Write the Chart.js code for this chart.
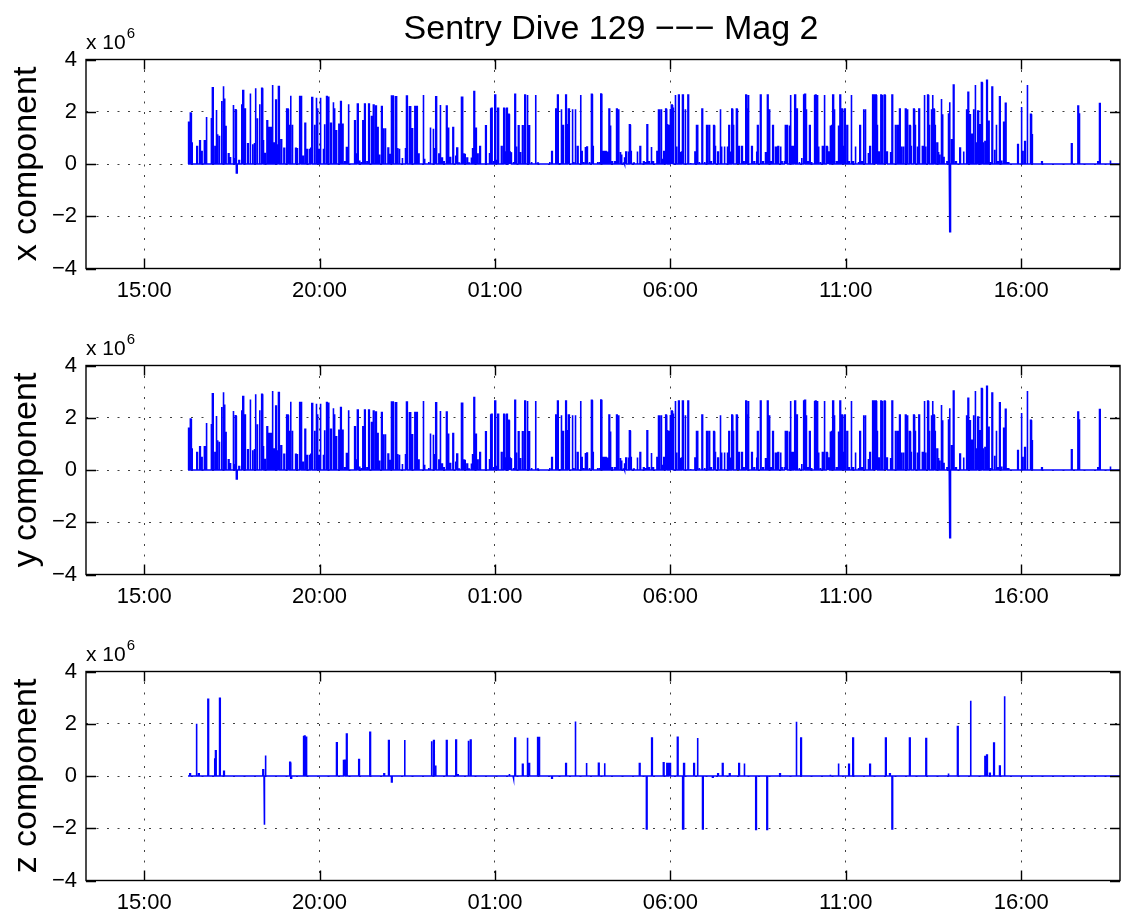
<!DOCTYPE html>
<html><head><meta charset="utf-8">
<script src="https://cdn.jsdelivr.net/npm/chart.js@4.4.1/dist/chart.umd.min.js"></script>
<style>
html,body{margin:0;padding:0;background:#fff;}
#wrap{position:relative;width:1133px;height:916px;overflow:hidden;}
.panel{position:absolute;left:0;width:1133px;height:306px;}
</style></head><body>
<div id="wrap">
  <div class="panel" style="top:0px"><canvas id="c1" width="1133" height="306"></canvas></div>
  <div class="panel" style="top:306px"><canvas id="c2" width="1133" height="306"></canvas></div>
  <div class="panel" style="top:612px"><canvas id="c3" width="1133" height="306"></canvas></div>
</div>
<script>
// ---- chart text ----
const chartTitle = 'Sentry Dive 129 \u2212\u2212\u2212 Mag 2';
const yAxisTitles = ['x component', 'y component', 'z component'];
const exponentText = ['x 10', '6'];

// ---- time axis (minutes since 15:00 on the first day) ----
const timeTickValues = [0, 300, 600, 900, 1200, 1500];
const timeTickLabels = ['15:00', '20:00', '01:00', '06:00', '11:00', '16:00'];
const timeMin = -99.5;
const timeMax = 1669;
const valueTicks = [-4, -2, 0, 2, 4];

// ---- x component: spike times (min since 15:00) and values (x 10^6) ----
const xTimes = [
  75,76,79,81,90,95,98,103,106,115,117,121,123,125,128,132,135,137,139,144,147,152,154,156,158,162,167,169,172,177,181,185,188,190,193,197,201,203,206,210,213,216,219,222,225,228,230,234,239,243,245,247,250,253,259,261,266,268,271,275,278,282,285,287,291,294,296,
  299,301,306,308,312,315,319,323,325,328,333,336,339,343,346,349,360,363,365,368,371,374,377,381,384,388,389,392,396,399,402,406,409,412,417,420,423,425,429,431,433,436,441,447,449,453,455,458,463,466,469,477,479,486,489,494,497,499,504,506,509,512,517,520,523,528,
  533,535,538,542,544,546,548,552,555,559,561,564,567,570,574,584,590,592,594,598,600,603,605,611,615,617,620,623,625,627,631,634,636,640,643,647,651,655,658,662,669,673,693,697,704,707,710,713,716,721,724,726,732,734,737,741,746,748,751,754,757,761,
  765,767,775,778,781,783,786,789,792,795,797,800,805,808,811,814,816,820,822,824,828,830,832,837,843,848,854,857,860,863,867,870,877,879,881,884,887,889,892,894,897,900,902,904,908,910,914,917,919,921,925,930,934,942,944,946,949,954,958,962,966,969,974,976,981,985,987,992,
  997,1000,1002,1005,1007,1013,1015,1017,1022,1025,1029,1031,1033,1039,1043,1047,1049,1054,1058,1062,1064,1066,1069,1072,1075,1079,1081,1084,1088,1090,1095,1097,1099,1103,1105,1108,1111,1113,1116,1120,1124,1128,1130,1132,1135,1138,1141,1146,1148,1151,1153,1156,1160,1163,1167,1169,1171,1173,1176,1178,1180,1184,1187,1190,1193,1195,1198,1202,1205,1209,1212,1216,1221,1224,1227,
  1230,1233,1238,1241,1246,1249,1251,1253,1256,1260,1262,1266,1268,1270,1276,1279,1285,1289,1292,1295,1298,1302,1305,1309,1311,1316,1318,1322,1325,1331,1334,1336,1340,1342,1346,1348,1350,1352,1356,1358,1360,1363,1365,1367,1373,1375,1377,1378,1381,1384,1388,1395,1401,1406,1409,1412,1415,1418,1421,1424,1426,1429,1432,1434,1438,1441,1444,1447,1450,1454,
  1457,1460,1463,1466,1470,1473,1476,1478,1494,1500,1502,1506,1510,1516,1518,1535,1586,1597,1599,1631,1634,1652,1669
];
const xValues = [
  0,1.6,1.95,0.8,0.67,0.89,0.48,0.89,1.8,1.73,2.92,0.67,2.07,1.14,1.08,2.41,2.98,2.51,1.43,0.39,0.27,2.26,0.23,2.07,-0.34,0.13,2.26,2.81,2.1,0.77,2.7,0.76,0.8,2.9,1.75,2.29,2.9,0.89,0.4,1.65,1.4,1.4,3.02,0.8,2.45,0.73,2.96,0.93,0.6,2.13,2.1,1.47,2.61,1.5,0.6,0.58,2.58,2.58,0.29,1.56,0.55,0.58,0.6,2.54,1.5,2.54,2.13,
  0.55,2.54,0.58,1.52,2.58,2.58,1.56,2.36,2.13,1.27,1.52,2.39,1.52,0.08,0.63,2.29,1.65,0.38,2.29,0.13,0.08,1.65,2.29,0.08,2.29,0.29,1.82,2.26,2.22,1.4,0.36,2.2,1.37,1.37,0.61,0.36,2.6,2.6,2.6,2.6,0.61,0.58,0.23,0.58,2.6,2.22,2.22,1.35,2.2,2.2,0.38,2.64,0.2,0.08,1.4,1.35,0.58,2.57,0.38,2.26,0.23,0.08,2.22,1.4,0.25,1.4,
  0.29,0.61,0.04,2.58,2.58,0.38,0.36,0.23,0.04,0.25,0.61,2.77,1.37,0.38,0.67,1.46,0.42,2.13,2.13,0.08,2.64,0.13,2.13,0.67,2.13,0.46,2.13,1.9,0.46,0.42,0.08,2.67,0.67,1.46,0.46,1.46,2.64,2.64,1.46,0.08,2.64,0.04,0.08,0.48,2.1,2.64,0.04,2.1,1.47,2.64,1.5,2.1,2.1,0.08,2.1,0.67,2.64,0.48,0.08,0.65,0.65,0.08,
  2.67,0.67,0.08,0.08,2.68,0.48,0.48,0.48,0.48,2.1,1.47,0.08,0.08,2.1,2.1,0.46,0.36,0.04,0.23,0.46,0.48,1.5,0.48,0.04,0.48,0.67,0.08,0.08,1.5,0.08,0.65,0.08,0.48,2.1,2.1,2.1,0.17,0.48,2.1,1.5,1.47,2.07,2.26,2.13,2.64,0.67,2.64,0.46,0.46,2.64,2.1,2.64,0.04,0.46,1.5,1.5,0.08,2.1,0.08,1.47,1.47,0.08,1.47,0.67,0.46,2.1,0.67,0.67,
  0.67,1.47,0.48,2.1,1.47,2.1,0.67,0.67,0.67,0.08,2.64,2.1,2.64,0.67,0.08,0.48,1.47,2.64,0.08,0.46,0.46,2.64,2.1,0.08,1.47,0.67,0.67,0.67,0.67,0.08,0.08,1.47,1.47,1.47,2.64,0.67,0.67,2.64,2.1,0.08,0.23,2.64,2.67,2.1,0.08,1.47,0.08,2.64,2.64,2.64,0.67,0.08,0.67,2.64,0.67,0.46,0.46,1.47,1.47,2.64,2.1,0.08,1.47,2.64,2.1,0.67,2.1,1.47,0.08,2.64,0.08,0.67,0.08,1.47,0.08,
  2.1,2.1,0.42,0.67,2.64,2.64,2.64,1.47,0.46,2.64,2.64,2.64,0.46,0.46,0.46,2.64,1.47,1.47,2.1,0.67,0.67,2.1,2.1,1.47,0.67,2.1,1.47,0.67,2.1,0.67,2.64,0.67,2.64,1.47,2.1,2.64,2.1,1.47,0.8,0.46,0.36,2.49,1.9,0.25,0.08,1.94,2.36,-2.59,0.93,3.02,0.08,0.61,0.48,2.1,2.74,1.88,1.14,2.1,3.02,0.8,2.03,1.5,3.12,0.8,0.86,3.2,1.63,0.08,2.95,0.55,
  1.5,0.08,2.57,0.13,1.6,2.32,0.08,0.08,0.74,2.18,0.48,0.86,3.02,1.9,1.12,0.08,0.77,2.22,1.94,0.08,2.31,0.13,0
];

// ---- y component: the reference shows the same trace as the x component ----
const yTimes = xTimes.slice();
const yValues = xValues.slice();

// ---- z component ----
const zTimes = [
  75,78,89,93,109,120,122,129,136,203,205,207,249,251,272,274,277,329,341,343,346,367,386,410,418,423,445,491,495,498,517,533,536,554,558,
  624,631,634,647,655,658,673,675,697,721,737,756,777,787,847,859,868,888,894,897,899,912,921,923,940,946,955,972,981,989,1001,1017,1026,1046,1065,
  1087,1115,1123,1173,1187,1205,1212,1241,1268,1275,1279,1309,1337,1375,1391,1413,1438,1441,1446,1453,1463,1471,1669
];
const zValues = [
  0,0.08,2.0,0.08,2.94,0.68,0.96,2.97,0.18,0.24,-1.87,0.78,0.52,-0.08,1.53,1.53,1.51,1.27,0.59,0.6,1.61,0.63,1.67,0.08,1.36,-0.23,1.38,1.33,1.36,0.4,1.36,1.38,0.05,1.35,1.38,
  0.08,-0.08,1.45,0.45,1.46,0.48,1.47,1.47,-0.08,0.48,2.09,0.5,0.49,0.49,0.48,-2.03,1.45,0.51,0.48,0.48,0.48,1.48,-2.03,0.48,0.48,1.45,-2.03,-0.05,0.08,0.48,0.08,0.48,0.48,-2.05,-2.05,
  0.08,2.08,1.45,0.05,0.48,0.45,1.45,0.45,1.45,0.08,-2.03,1.45,1.43,0.1,1.89,2.88,0.74,0.8,0.1,1.26,0.38,3.05,0
];

// Each sample is drawn as a narrow pulse rising from the zero line.
function pulsePoints(times, values) {
  const pts = [];
  for (let i = 0; i < times.length; i++) {
    const t = times[i], v = values[i];
    if (v === 0) { pts.push({x: t, y: 0}); continue; }
    pts.push({x: t, y: 0}, {x: t, y: v}, {x: t + 1.1, y: v}, {x: t + 1.1, y: 0});
  }
  return pts;
}

const FONT = '"Liberation Sans", Arial, Helvetica, sans-serif';

const framePlugin = {
  id: 'matlabFrame',
  afterDraw(chart, args, opts) {
    const {ctx, chartArea: a, scales: {x, y}} = chart;
    ctx.save();
    ctx.strokeStyle = '#000';
    ctx.lineWidth = 1.4;
    ctx.strokeRect(a.left, a.top, a.right - a.left, a.bottom - a.top);
    const L = 10;
    ctx.beginPath();
    x.ticks.forEach(t => {
      const px = Math.round(x.getPixelForValue(t.value)) + 0.5;
      ctx.moveTo(px, a.bottom); ctx.lineTo(px, a.bottom - L);
      ctx.moveTo(px, a.top); ctx.lineTo(px, a.top + L);
    });
    y.ticks.forEach(t => {
      const py = Math.round(y.getPixelForValue(t.value)) + 0.5;
      ctx.moveTo(a.left, py); ctx.lineTo(a.left + L, py);
      ctx.moveTo(a.right, py); ctx.lineTo(a.right - L, py);
    });
    ctx.stroke();
    // exponent label
    ctx.fillStyle = '#000';
    ctx.textAlign = 'left';
    ctx.textBaseline = 'alphabetic';
    ctx.font = '21px ' + FONT;
    ctx.fillText(exponentText[0], a.left, a.top - 11);
    const w = ctx.measureText(exponentText[0]).width;
    ctx.font = '15px ' + FONT;
    ctx.fillText(exponentText[1], a.left + w + 1, a.top - 22);
    if (opts && opts.title) {
      ctx.font = '34px ' + FONT;
      ctx.textAlign = 'center';
      ctx.textBaseline = 'middle';
      ctx.fillText(opts.title, (a.left + a.right) / 2 + 8, 30);
    }
    ctx.restore();
  }
};

function makeChart(id, times, values, yTitle, title) {
  return new Chart(document.getElementById(id), {
    type: 'line',
    data: {
      datasets: [{
        data: pulsePoints(times, values),
        borderColor: '#0000ff',
        borderWidth: 1.6,
        pointRadius: 0,
        tension: 0,
        fill: false
      }]
    },
    options: {
      responsive: false,
      animation: false,
      devicePixelRatio: 1,
      parsing: false,
      normalized: true,
      layout: {padding: {top: 59.5, right: 13, left: 0, bottom: 0}},
      plugins: {
        legend: {display: false},
        tooltip: {enabled: false},
        matlabFrame: {title: title}
      },
      scales: {
        x: {
          type: 'linear',
          min: timeMin,
          max: timeMax,
          afterBuildTicks: s => { s.ticks = timeTickValues.map(v => ({value: v})); },
          afterFit: s => { s.height = 37.5; },
          ticks: {
            autoSkip: false,
            maxRotation: 0,
            padding: 9,
            color: '#000',
            font: {family: FONT, size: 22},
            callback: (v, i) => timeTickLabels[i]
          },
          grid: {color: 'rgba(0,0,0,0.75)', lineWidth: 1, drawTicks: false},
          border: {display: false, dash: [2, 8.5]}
        },
        y: {
          type: 'linear',
          min: -4,
          max: 4,
          afterBuildTicks: s => { s.ticks = valueTicks.map(v => ({value: v})); },
          afterFit: s => { s.width = 86; },
          ticks: {
            padding: 9,
            color: '#000',
            font: {family: FONT, size: 22},
            callback: v => (v < 0 ? '\u2212' + Math.abs(v) : String(v))
          },
          grid: {color: 'rgba(0,0,0,0.75)', lineWidth: 1, drawTicks: false},
          border: {display: false, dash: [2, 8.5]},
          title: {
            display: true,
            text: yTitle,
            color: '#000',
            font: {family: FONT, size: 34, lineHeight: 1.2},
            padding: {top: 6, bottom: 0}
          }
        }
      }
    },
    plugins: [framePlugin]
  });
}

makeChart('c1', xTimes, xValues, yAxisTitles[0], chartTitle);
makeChart('c2', yTimes, yValues, yAxisTitles[1], null);
makeChart('c3', zTimes, zValues, yAxisTitles[2], null);
</script>
</body></html>
